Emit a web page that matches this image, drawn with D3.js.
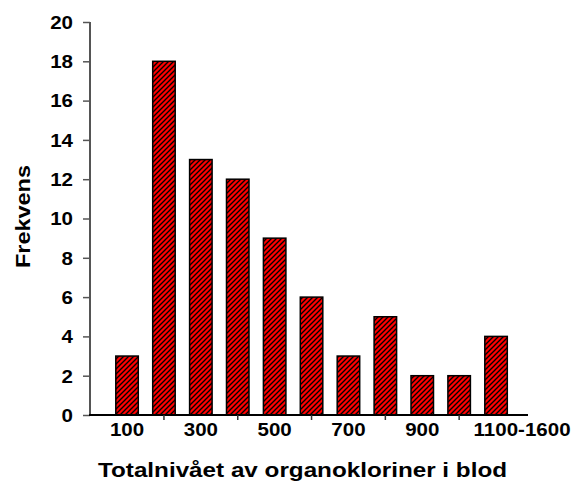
<!DOCTYPE html>
<html>
<head>
<meta charset="utf-8">
<script src="https://cdn.jsdelivr.net/npm/d3@7"></script>
<style>
  html, body { margin: 0; padding: 0; background: #fff; }
  svg { display: block; }
  text { font-family: "Liberation Sans", Arial, sans-serif; font-weight: bold; fill: #000; }
</style>
</head>
<body>
<svg id="chart" width="574" height="482"></svg>
<script>
const categories = ["100", "200", "300", "400", "500", "600", "700", "800", "900", "1000", "1100-1600"];
const values = [3, 18, 13, 12, 9, 6, 3, 5, 2, 2, 4];
const yTicks = [0, 2, 4, 6, 8, 10, 12, 14, 16, 18, 20];
const shownLabels = ["100", "300", "500", "700", "900", "1100-1600"];
const xTitle = "Totalnivået av organokloriner i blod";
const yTitle = "Frekvens";

const svg = d3.select("#chart");
const axisLeftX = 90, axisRightX = 528, baseY = 415, topY = 22;

const defs = svg.append("defs");
const pat = defs.append("pattern")
  .attr("id", "hatch")
  .attr("patternUnits", "userSpaceOnUse")
  .attr("width", 5).attr("height", 5);
pat.append("rect").attr("width", 5).attr("height", 5).attr("fill", "#ff0000");
pat.append("path")
  .attr("d", "M0,5 L5,0 M-1,1 L1,-1 M4,6 L6,4")
  .attr("stroke", "#000").attr("stroke-width", 1.35);

const y = d3.scaleLinear().domain([0, 20]).range([baseY, topY]);
const x = d3.scaleBand().domain(categories)
  .range([108.6, 514.5]).paddingInner(0.39).paddingOuter(0.195);

// Bars
svg.append("g").selectAll("rect").data(values).join("rect")
  .attr("x", (d, i) => x(categories[i]))
  .attr("y", d => y(d))
  .attr("width", x.bandwidth())
  .attr("height", d => y(0) - y(d))
  .attr("fill", "url(#hatch)")
  .attr("stroke", "#000")
  .attr("stroke-width", 1.5);

// Y axis
const yAxis = svg.append("g").attr("transform", `translate(${axisLeftX},0)`)
  .call(d3.axisLeft(y).tickValues(yTicks).tickSize(7).tickPadding(0).tickFormat(d3.format("d")));
yAxis.select(".domain").attr("stroke", "#555").attr("stroke-width", 2).attr("d", `M0,${topY}V${baseY}`);
yAxis.selectAll(".tick line").attr("stroke", "#555").attr("stroke-width", 1.5);
yAxis.selectAll(".tick text").remove();
yAxis.selectAll(".tick").append("text")
  .attr("text-anchor", "end")
  .attr("dy", "0.35em")
  .attr("transform", "translate(-17,0) scale(1.14,1)")
  .attr("font-size", 18)
  .text(d => d);

// X axis line
svg.append("line")
  .attr("x1", axisLeftX - 1).attr("x2", axisRightX)
  .attr("y1", baseY).attr("y2", baseY)
  .attr("stroke", "#000").attr("stroke-width", 2);

// X ticks (under unlabeled categories)
svg.append("g").selectAll("line")
  .data(categories.filter(c => !shownLabels.includes(c))).join("line")
  .attr("x1", c => x(c) + x.bandwidth() / 2)
  .attr("x2", c => x(c) + x.bandwidth() / 2)
  .attr("y1", baseY).attr("y2", baseY + 5)
  .attr("stroke", "#333").attr("stroke-width", 1.5);

// X labels
svg.append("g").selectAll("text").data(shownLabels).join("text")
  .attr("text-anchor", "middle")
  .attr("font-size", 18)
  .attr("transform", (c, i) => {
    const cx = x(c) + x.bandwidth() / 2 + (i === shownLabels.length - 1 ? 26 : 0);
    return `translate(${cx},435.5) scale(1.14,1)`;
  })
  .text(c => c);

// X title
svg.append("text")
  .attr("x", 302.5).attr("y", 476.5)
  .attr("text-anchor", "middle")
  .attr("font-size", 20)
  .attr("textLength", 409).attr("lengthAdjust", "spacingAndGlyphs")
  .text(xTitle);

// Y title
svg.append("text")
  .attr("transform", "translate(29.5,216.5) rotate(-90)")
  .attr("text-anchor", "middle")
  .attr("font-size", 21)
  .attr("textLength", 103).attr("lengthAdjust", "spacingAndGlyphs")
  .text(yTitle);
</script>
</body>
</html>
